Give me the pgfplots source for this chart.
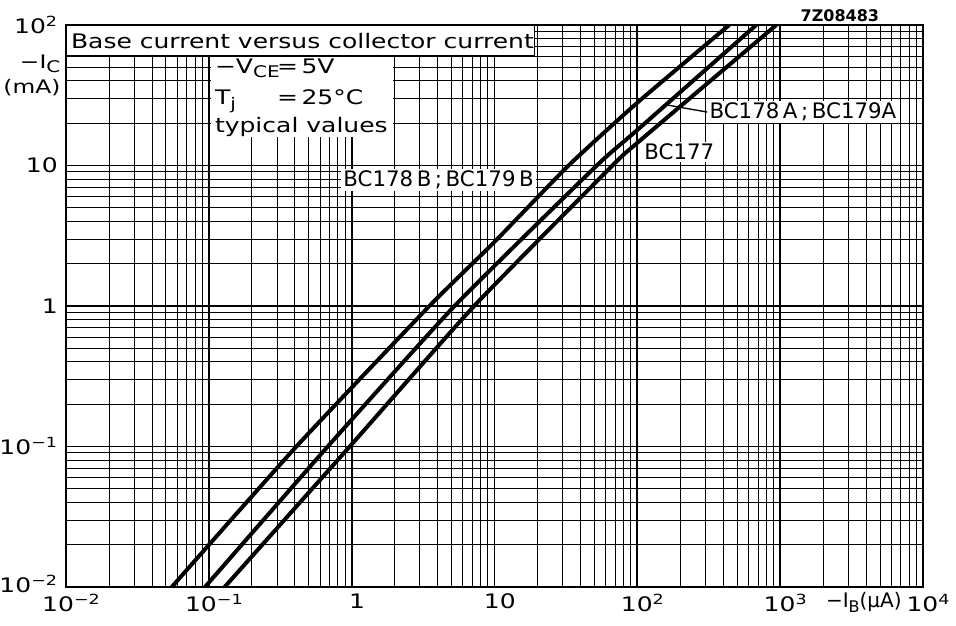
\documentclass[border=0pt]{standalone}
\usepackage{fontspec}
\setmainfont{DejaVu Sans}[FakeStretch=1.25]
\newfontfamily\bcfont{DejaVu Sans}
\usepackage{pgfplots}
\usepackage{pgfplotstable}
\pgfplotsset{compat=1.18}
\newcommand\sub[1]{\raisebox{-0.4ex}{\fontsize{12}{12}\selectfont #1}}

% BC178B ; BC179B (upper curve)
\pgfplotstableread{
x y
0.055 0.01
0.41 0.1
3.5 1
10 2.86
33 10
100 28
440 100
}\bcb
% BC178A ; BC179A (middle curve)
\pgfplotstableread{
x y
0.094 0.01
0.68 0.1
5.25 1
52 10
100 17.9
680 100
}\bca
% BC177 (lower curve)
\pgfplotstableread{
x y
0.129 0.01
0.97 0.1
7.2 1
67 10
100 14.5
940 100
}\bcs

\begin{document}
\fontsize{15}{18}\selectfont
\begin{tikzpicture}
\begin{axis}[
    scale only axis,
    width=642.75pt, height=421.5pt,
    xmode=log, ymode=log,
    xmin=0.01, xmax=10000,
    ymin=0.01, ymax=100,
    xtick={0.01,0.1,1,10,100,1000,10000},
    ytick={0.01,0.1,1,10,100},
    minor xtick={0.02,0.03,0.04,0.05,0.06,0.07,0.08,0.09,
                 0.2,0.3,0.4,0.5,0.6,0.7,0.8,0.9,
                 2,3,4,5,6,7,8,9,
                 20,30,40,50,60,70,80,90,
                 200,300,400,500,600,700,800,900,
                 2000,3000,4000,5000,6000,7000,8000,9000},
    minor ytick={0.02,0.03,0.04,0.05,0.06,0.07,0.08,0.09,
                 0.2,0.3,0.4,0.5,0.6,0.7,0.8,0.9,
                 2,3,4,5,6,7,8,9,
                 20,30,40,50,60,70,80,90},
    xticklabels={10\textsuperscript{−2},10\textsuperscript{−1},1,10,10\textsuperscript{2},10\textsuperscript{3},10\textsuperscript{4}},
    yticklabels={\raisebox{5pt}{10\textsuperscript{−2}},10\textsuperscript{−1},1,10,10\textsuperscript{2}},
    tick label style={font=\fontsize{15}{18}\selectfont},
    xticklabel style={xshift=4pt},
    yticklabel style={xshift=-1pt},
    grid=both,
    major grid style={black, line width=1.3pt},
    minor grid style={black, line width=0.7pt},
    axis line style={black, line width=1.5pt},
    major tick length=0pt, minor tick length=0pt,
    clip mode=individual,
]
\addplot[black, line width=3pt, smooth, tension=0.3] table {\bcb};
\addplot[black, line width=3pt, smooth, tension=0.3] table {\bca};
\addplot[black, line width=3pt, smooth, tension=0.3] table {\bcs};

% conditions box and title box
\fill[white] (axis cs:0.103,60) rectangle (axis cs:1.94,16);
\draw[fill=white, line width=1.2pt] (axis cs:0.01,100) rectangle (axis cs:19.1,60);
\node[anchor=west, inner sep=0pt] at (axis cs:0.0108,77) {Base current versus collector current};
\node[anchor=base west, inner sep=0pt] at (axis cs:0.110,45.5) {−V\sub{CE}};
\node[anchor=base west, inner sep=0pt] at (axis cs:0.30,45.5) {=\,5V};
\node[anchor=base west, inner sep=0pt] at (axis cs:0.110,27) {T\sub{j}};
\node[anchor=base west, inner sep=0pt] at (axis cs:0.30,27) {=\,25°C};
\node[anchor=base west, inner sep=0pt] at (axis cs:0.110,17.3) {typical values};

% curve labels
\node[fill=white, inner sep=1.5pt, font=\bcfont\fontsize{16}{18}\selectfont]
    at (axis cs:4.06,7.9) {BC178\,B\,;\,BC179\,B};
\draw[line width=1pt] (axis cs:160,27) -- (axis cs:309,24);
\node[fill=white, inner sep=1.5pt, anchor=west, font=\bcfont\fontsize{16}{18}\selectfont]
    at (axis cs:309,24) {BC178\,A\,;\,BC179A};
\node[fill=white, inner sep=1.5pt, font=\bcfont\fontsize{16}{18}\selectfont]
    at (axis cs:197,12.5) {BC177};

% axis labels
\node[anchor=north east, align=right, inner sep=0pt, xshift=-4pt, yshift=-22pt,
      font=\fontsize{14}{19}\selectfont]
    at (rel axis cs:0,1) {−I\sub{C}\\(mA)};
\node[anchor=north, inner sep=0pt, yshift=-4pt, font=\bcfont\fontsize{15}{18}\selectfont]
    at (rel axis cs:0.931,0) {−I\sub{B}(µA)};
\node[anchor=south, inner sep=0pt, yshift=2pt, font=\bcfont\bfseries\fontsize{12}{14}\selectfont]
    at (rel axis cs:0.903,1) {7Z08483};
\end{axis}
\pgfresetboundingbox
\path ([shift={(-49.5pt,-28.5pt)}]current axis.south west)
    rectangle ([shift={(24.75pt,18.75pt)}]current axis.north east);
\end{tikzpicture}
\end{document}
